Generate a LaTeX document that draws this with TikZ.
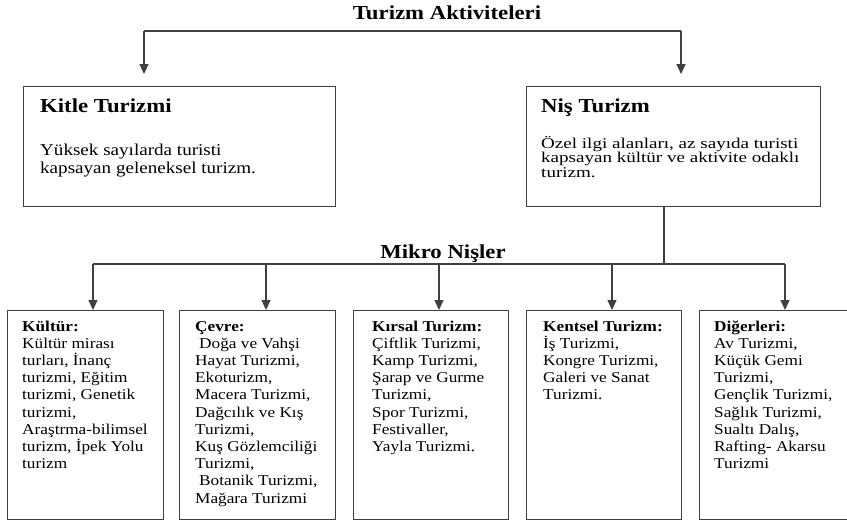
\documentclass[tikz,border=0pt]{standalone}
\usepackage{fontspec}
\setmainfont{Liberation Serif}[FakeStretch=1.15]
\newfontfamily\nisfamily{Liberation Serif}[FakeStretch=1.27]
\usetikzlibrary{arrows.meta}
\newcommand\mymidfont{\fontsize{16.6}{18}\selectfont\lineskiplimit=-30pt\relax}
\newcommand\mynisfont{\nisfamily\fontsize{15}{14.6}\selectfont\lineskiplimit=-30pt\relax}
\newcommand\mylowfont{\fontsize{15}{17.2}\selectfont\lineskiplimit=-30pt\relax}
\begin{document}
\begin{tikzpicture}[x=1pt,y=-1pt,
  ln/.style={draw=black!75, line width=1.2pt},
  arr/.style={ln, -{Triangle[width=9pt,length=10pt]}},
  box/.style={draw=black!75, line width=1.2pt, inner sep=0pt, anchor=north west},
  headfont/.style={font=\fontsize{19.8}{22}\selectfont\bfseries},
  midtxt/.style={anchor=base west, inner sep=0pt, align=left, font=\mymidfont},
  nistxt/.style={anchor=base west, inner sep=0pt, align=left, font=\mynisfont},
  lowtxt/.style={anchor=base west, inner sep=0pt, align=left, font=\mylowfont}
]
\useasboundingbox (0,0) rectangle (847,523);
\fill[white] (0,0) rectangle (847,523);
\clip (0,0) rectangle (847,523);

% title
\node[headfont, anchor=base, inner sep=0pt] (title) at (447,19) {Turizm Aktiviteleri};

% upper boxes
\node[box, minimum width=312pt, minimum height=120pt] (kitle) at (23,86) {};
\node[box, minimum width=294pt, minimum height=120pt] (nis) at (526,86) {};
\node[headfont, anchor=base west, inner sep=0pt] (kitleh) at (40,112) {Kitle Turizmi};
% base anchor = baseline of the last line
\node[midtxt] (kitlet) at (40,173) {Yüksek sayılarda turisti\\kapsayan geleneksel turizm.};
\node[headfont, anchor=base west, inner sep=0pt] (nish) at (541,112) {Niş Turizm};
\node[nistxt] (nist) at (541,177.2) {Özel ilgi alanları, az sayıda turisti\\kapsayan kültür ve aktivite odaklı\\turizm.};

% top connectors
\coordinate (ta) at (144,31);
\coordinate (tb) at (681,31);
\coordinate (ka) at (144,74);
\coordinate (kb) at (681,74);
\draw[ln] (ta) -- (tb);
\draw[arr] (ta) -- (ka);
\draw[arr] (tb) -- (kb);

% micro niches
\node[headfont, anchor=base, inner sep=0pt] (mikro) at (443,258) {Mikro Nişler};

% lower boxes
\node[box, minimum width=156pt, minimum height=209pt] (b1) at (7,310) {};
\node[box, minimum width=156pt, minimum height=209pt] (b2) at (179,310) {};
\node[box, minimum width=155pt, minimum height=209pt] (b3) at (353,310) {};
\node[box, minimum width=155pt, minimum height=209pt] (b4) at (526,310) {};
\node[box, minimum width=156pt, minimum height=209pt] (b5) at (699,310) {};

\node[lowtxt] (t1) at (22,468.6) {\textbf{Kültür:}\\Kültür mirası\\turları, İnanç\\turizmi, Eğitim\\turizmi, Genetik\\turizmi,\\Araştrma-bilimsel\\turizm, İpek Yolu\\turizm};
\node[lowtxt] (t2) at (195,503) {\textbf{Çevre:}\\\hspace*{4pt}Doğa ve Vahşi\\Hayat Turizmi,\\Ekoturizm,\\Macera Turizmi,\\Dağcılık ve Kış\\Turizmi,\\Kuş Gözlemciliği\\Turizmi,\\\hspace*{4pt}Botanik Turizmi,\\Mağara Turizmi};
\node[lowtxt] (t3) at (372,451.4) {\textbf{Kırsal Turizm:}\\Çiftlik Turizmi,\\Kamp Turizmi,\\Şarap ve Gurme\\Turizmi,\\Spor Turizmi,\\Festivaller,\\Yayla Turizmi.};
\node[lowtxt] (t4) at (543,399.8) {\textbf{Kentsel Turizm:}\\İş Turizmi,\\Kongre Turizmi,\\Galeri ve Sanat\\Turizmi.};
\node[lowtxt] (t5) at (714,468.6) {\textbf{Diğerleri:}\\Av Turizmi,\\Küçük Gemi\\Turizmi,\\Gençlik Turizmi,\\Sağlık Turizmi,\\Sualtı Dalış,\\Rafting- Akarsu\\Turizmi};

% lower connectors
\coordinate (hub) at (664,264);
\coordinate (d1) at (93,264);
\coordinate (d2) at (266,264);
\coordinate (d3) at (439,264);
\coordinate (d4) at (612,264);
\coordinate (d5) at (785,264);
\draw[ln] (hub |- nis.south) -- (hub);
\draw[ln] (d1) -- (d5);
\draw[arr] (d1) -- (d1 |- b1.north);
\draw[arr] (d2) -- (d2 |- b2.north);
\draw[arr] (d3) -- (d3 |- b3.north);
\draw[arr] (d4) -- (d4 |- b4.north);
\draw[arr] (d5) -- (d5 |- b5.north);
\end{tikzpicture}
\end{document}
